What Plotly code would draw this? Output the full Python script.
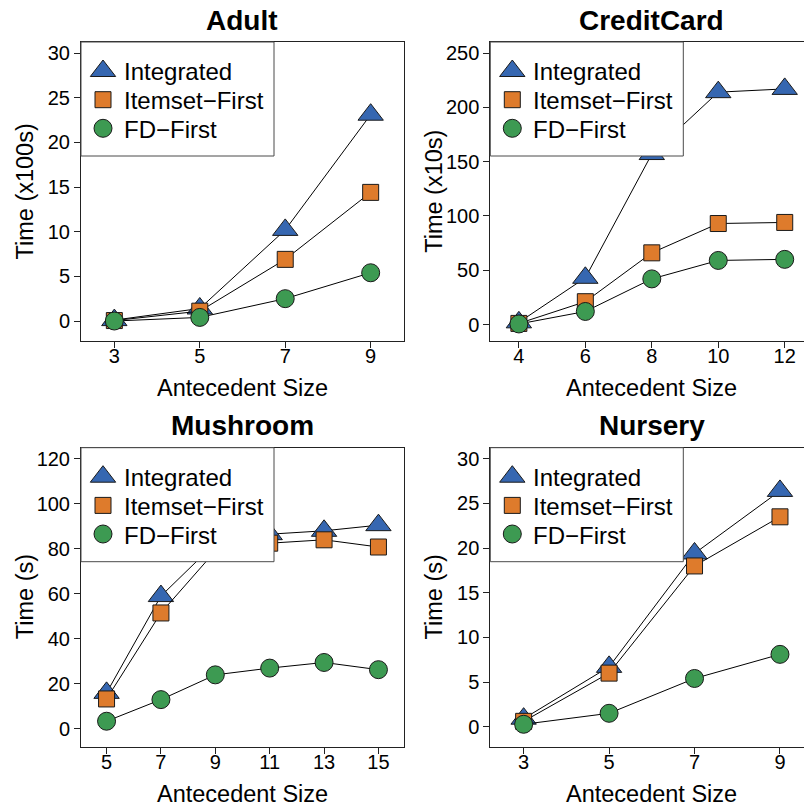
import plotly.graph_objects as go

# ---- data -------------------------------------------------------------
adult_x = [3, 5, 7, 9]
adult_integrated = [0.1, 1.4, 10.2, 23.1]
adult_itemset = [0.05, 1.1, 6.9, 14.4]
adult_fd = [0.0, 0.4, 2.5, 5.4]

credit_x = [4, 6, 8, 10, 12]
credit_integrated = [2, 43, 157, 214, 217]
credit_itemset = [1, 21, 66, 93, 94]
credit_fd = [0.5, 12, 42, 59, 60]

mushroom_x = [5, 7, 9, 11, 13, 15]
mushroom_integrated = [16, 59, 82.5, 86.5, 88, 90.5]
mushroom_itemset = [13.3, 51.5, 79, 82.5, 84, 80.8]
mushroom_fd = [3.4, 13, 24, 27, 29.5, 26.3]

nursery_x = [3, 5, 7, 9]
nursery_integrated = [0.9, 6.7, 19.4, 26.4]
nursery_itemset = [0.6, 6.0, 18.0, 23.5]
nursery_fd = [0.27, 1.5, 5.4, 8.1]

series_names = ["Integrated", "Itemset\u2212First", "FD\u2212First"]
x_title = "Antecedent Size"

# ---- style ------------------------------------------------------------
W, H = 804, 807
FONT = "Liberation Sans, Arial, Helvetica, sans-serif"
FRAME = "#222222"
COLORS = ["#3667B1", "#DE7B2C", "#3D9A52"]
SYMBOLS = ["triangle-up", "square", "circle"]
SIZES = [22, 16, 18]
MARKER_EDGE = dict(color="#1a1a1a", width=1)

# panel layout in pixels (left, top) and the full panel width / height
PANEL_W, PANEL_H = 323, 299
# legend box (pixels, relative to the panel's top-left corner)
LEG_W, LEG_H = 193, 114
LEG_ROWS = [29, 57.7, 86.3]
LEG_GLYPH_X, LEG_TEXT_X = 22, 41

panels = [
    dict(name="Adult", x=adult_x, ys=[adult_integrated, adult_itemset, adult_fd],
         xlim=(2.5, 9.5), ylim=(-1, 30), yticks=list(range(0, 31, 5)),
         ytitle="Time (x100s)", left=81, top=42),
    dict(name="CreditCard", x=credit_x, ys=[credit_integrated, credit_itemset, credit_fd],
         xlim=(3.5, 12.5), ylim=(-5, 250), yticks=list(range(0, 251, 50)),
         ytitle="Time (x10s)", left=490.3, top=42),
    dict(name="Mushroom", x=mushroom_x, ys=[mushroom_integrated, mushroom_itemset, mushroom_fd],
         xlim=(4.5, 15.5), ylim=(-3, 120), yticks=list(range(0, 121, 20)),
         ytitle="Time (s)", left=81, top=447.7),
    dict(name="Nursery", x=nursery_x, ys=[nursery_integrated, nursery_itemset, nursery_fd],
         xlim=(2.5, 9.5), ylim=(-1, 30), yticks=list(range(0, 31, 5)),
         ytitle="Time (s)", left=490.3, top=447.7),
]


def padded(lo, hi, frac=0.04):
    d = (hi - lo) * frac
    return lo - d, hi + d


fig = go.Figure()
annotations = []
layout = dict(
    width=W, height=H,
    margin=dict(l=0, r=0, t=0, b=0),
    paper_bgcolor="white", plot_bgcolor="rgba(0,0,0,0)",
    font=dict(family=FONT, color="black"),
    showlegend=False,
)

axis_common = dict(
    ticks="outside", ticklen=6, tickwidth=1, tickcolor=FRAME,
    showline=True, linecolor=FRAME, linewidth=1,
    showgrid=False, zeroline=False, fixedrange=True,
    tickfont=dict(size=20, family=FONT, color="black"),
)

for i, p in enumerate(panels):
    k = "" if i == 0 else str(i + 1)
    xr = list(padded(*p["xlim"]))
    yr = list(padded(*p["ylim"]))
    left, top = p["left"], p["top"]
    right_full = left + PANEL_W
    right = min(right_full, W)
    # panels on the right run past the page edge: clip the visible range
    if right < right_full:
        xr[1] = xr[0] + (xr[1] - xr[0]) * (right - left) / PANEL_W
    bottom = top + PANEL_H

    layout["xaxis" + k] = dict(
        domain=[left / W, right / W], anchor="y" + k, range=xr,
        tickmode="array", tickvals=p["x"], ticktext=[str(v) for v in p["x"]],
        mirror=True, ticklabelstandoff=-9, **axis_common,
    )
    layout["yaxis" + k] = dict(
        domain=[1 - bottom / H, 1 - top / H], anchor="x" + k, range=yr,
        tickmode="array", tickvals=p["yticks"], ticktext=[str(v) for v in p["yticks"]],
        mirror=(right == right_full), **axis_common,
    )

    for j in range(3):
        fig.add_trace(go.Scatter(
            x=p["x"], y=p["ys"][j], name=series_names[j],
            xaxis="x" + k, yaxis="y" + k,
            mode="lines+markers", cliponaxis=False,
            line=dict(color="black", width=1),
            marker=dict(symbol=SYMBOLS[j], size=SIZES[j], color=COLORS[j],
                        line=MARKER_EDGE),
        ))

    cx = (left + right_full) / 2
    annotations.append(dict(
        text="<b>%s</b>" % p["name"], x=cx / W, y=1 - (top - 22) / H,
        xref="paper", yref="paper", xanchor="center", yanchor="middle",
        showarrow=False, font=dict(size=28, family=FONT, color="black"),
    ))
    annotations.append(dict(
        text=x_title, x=cx / W, y=1 - (bottom + 47) / H,
        xref="paper", yref="paper", xanchor="center", yanchor="middle",
        showarrow=False, font=dict(size=23.5, family=FONT, color="black"),
    ))
    annotations.append(dict(
        text=p["ytitle"], x=(left - 56) / W, y=1 - (top + PANEL_H / 2) / H,
        xref="paper", yref="paper", xanchor="center", yanchor="middle",
        textangle=-90, showarrow=False,
        font=dict(size=23.5, family=FONT, color="black"),
    ))
    for j, name in enumerate(series_names):
        annotations.append(dict(
            text=name, x=(left + LEG_TEXT_X) / W, y=1 - (top + LEG_ROWS[j] + 1) / H,
            xref="paper", yref="paper", xanchor="left", yanchor="middle",
            showarrow=False, font=dict(size=24, family=FONT, color="black"),
        ))

# ---- legends: drawn on a full-page pixel overlay above the panels -----
layout["xaxis5"] = dict(domain=[0, 1], range=[0, W], visible=False,
                        fixedrange=True, anchor="y5")
layout["yaxis5"] = dict(domain=[0, 1], range=[H, 0], visible=False,
                        fixedrange=True, anchor="x5")

for p in panels:
    left, top = p["left"], p["top"]
    fig.add_trace(go.Scatter(
        x=[left, left + LEG_W, left + LEG_W, left, left],
        y=[top, top, top + LEG_H, top + LEG_H, top],
        xaxis="x5", yaxis="y5", mode="lines", fill="toself",
        fillcolor="white", line=dict(color="#4a4a4a", width=1),
        hoverinfo="skip",
    ))
    for j in range(3):
        fig.add_trace(go.Scatter(
            x=[left + LEG_GLYPH_X], y=[top + LEG_ROWS[j]],
            xaxis="x5", yaxis="y5", mode="markers", hoverinfo="skip",
            marker=dict(symbol=SYMBOLS[j], size=SIZES[j], color=COLORS[j],
                        line=MARKER_EDGE),
        ))

layout["annotations"] = annotations
fig.update_layout(**layout)
fig.write_html("out.html")
